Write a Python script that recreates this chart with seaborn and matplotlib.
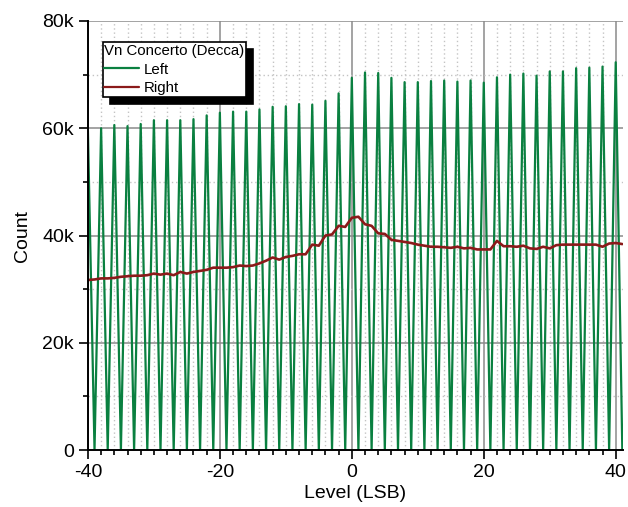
import matplotlib
matplotlib.use("Agg")
import matplotlib.pyplot as plt
import pandas as pd
import seaborn as sns
from matplotlib.ticker import FixedLocator, FixedFormatter, MultipleLocator

# Histogram of sample levels around zero (in LSB) for both channels
levels = list(range(-40, 42))

left_counts = [
    59500, 0, 60000, 0, 60600, 0, 60400, 0, 60800, 0,
    61500, 0, 61500, 0, 61500, 0, 61700, 0, 62400, 0,
    62900, 0, 63100, 0, 63100, 0, 63500, 0, 64000, 0,
    64100, 0, 64500, 0, 64400, 0, 65100, 0, 66500, 0,
    69400, 0, 70400, 0, 70300, 0, 69400, 0, 68600, 0,
    68600, 0, 68800, 0, 68900, 0, 68700, 0, 68900, 0,
    68500, 0, 69500, 0, 70000, 0, 70200, 0, 69800, 0,
    70600, 0, 70600, 0, 71200, 0, 71300, 0, 71500, 0,
    72300, 0,
]

right_counts = [
    31700, 31800, 32000, 32000, 32100, 32300, 32400, 32500, 32500, 32600,
    32900, 32700, 32900, 32600, 33200, 32900, 33200, 33400, 33600, 34000,
    34000, 34000, 34100, 34400, 34300, 34400, 34800, 35300, 35900, 35500,
    36000, 36200, 36500, 36500, 38300, 38100, 40000, 40200, 41800, 41600,
    43300, 43500, 42100, 41800, 40400, 40300, 39200, 39000, 38800, 38600,
    38300, 38100, 37900, 37900, 37800, 37700, 37900, 37600, 37700, 37400,
    37400, 37400, 39000, 38000, 38000, 37900, 38100, 37600, 37500, 37900,
    37600, 38200, 38300, 38300, 38300, 38300, 38300, 38300, 37900, 38500,
    38600, 38400,
]

channel_names = ["Left", "Right"]
channel_colors = {"Left": "#0a8040", "Right": "#8b1a1a"}
legend_title = "Vn Concerto (Decca)"

x_ticks = [-40, -20, 0, 20, 40]
x_tick_labels = ["-40", "-20", "0", "20", "40"]
y_ticks = [0, 20000, 40000, 60000, 80000]
y_tick_labels = ["0", "20k", "40k", "60k", "80k"]

sns.set_theme(style="white")
plt.rcParams["font.family"] = ["Liberation Sans", "DejaVu Sans"]
plt.rcParams["text.color"] = "black"

df = pd.DataFrame({
    "Level": levels + levels,
    "Count": left_counts + right_counts,
    "Channel": [channel_names[0]] * len(levels) + [channel_names[1]] * len(levels),
})

fig = plt.figure(figsize=(6.28, 5.07), dpi=100)
ax = fig.add_axes([0.140, 0.1124, 0.852, 0.8462])

sns.lineplot(data=df, x="Level", y="Count", hue="Channel",
             hue_order=channel_names, palette=channel_colors,
             ax=ax, legend=True)
ax.lines[0].set_linewidth(1.6)
ax.lines[1].set_linewidth(1.9)

ax.set_xlim(-40, 41.1)
ax.set_ylim(0, 80000)

ax.xaxis.set_major_locator(FixedLocator(x_ticks))
ax.xaxis.set_major_formatter(FixedFormatter(x_tick_labels))
ax.yaxis.set_major_locator(FixedLocator(y_ticks))
ax.yaxis.set_major_formatter(FixedFormatter(y_tick_labels))
ax.xaxis.set_minor_locator(MultipleLocator(2))
ax.yaxis.set_minor_locator(MultipleLocator(10000))

ax.set_axisbelow(True)
ax.grid(which="major", color="#8a8a8a", linewidth=1.1, linestyle="-")
ax.grid(which="minor", color="#c4c4c4", linewidth=1.0, linestyle=(0, (1, 2)))

for side in ("top", "right"):
    ax.spines[side].set_visible(False)
for side in ("left", "bottom"):
    ax.spines[side].set_color("black")
    ax.spines[side].set_linewidth(1.4)

ax.tick_params(which="both", direction="out", color="black", width=1.2,
               bottom=True, left=True, top=False, right=False)
ax.tick_params(which="major", length=6.5, labelsize=14, labelcolor="black", pad=3.5)
ax.tick_params(which="minor", length=3.5)

ax.set_xlabel("Level (LSB)", fontsize=14, color="black", labelpad=3)
ax.set_ylabel("Count", fontsize=14, color="black", labelpad=8)

leg = ax.legend(title=legend_title, loc="upper left",
                bbox_to_anchor=(0.0275, 0.95), borderaxespad=0,
                fancybox=False, edgecolor="black", framealpha=1,
                fontsize=10.8, title_fontsize=10.8, alignment="left",
                handlelength=2.3, handletextpad=0.3, labelspacing=0.3,
                borderpad=0.12,
                shadow={"ox": 5, "oy": -5, "facecolor": "black",
                        "edgecolor": "black", "alpha": 1})
leg.get_frame().set_linewidth(1.2)
leg.get_title().set_color("black")
for text in leg.get_texts():
    text.set_color("black")
for line in leg.get_lines():
    line.set_linewidth(1.6)

fig.savefig("out.png", dpi=100)
